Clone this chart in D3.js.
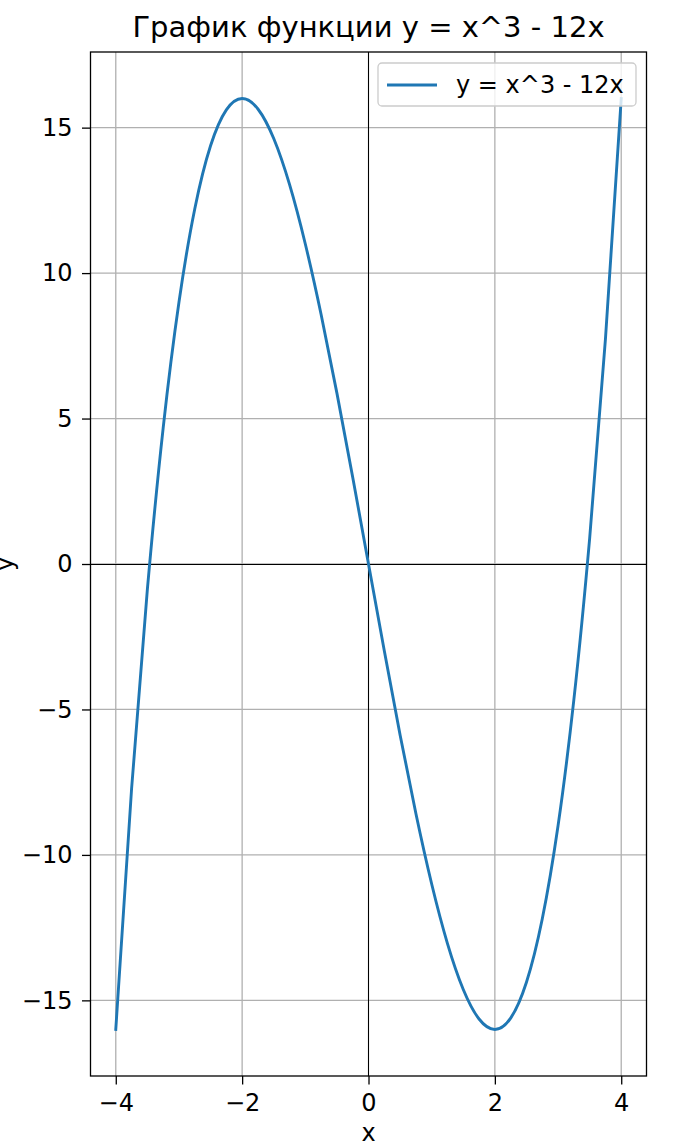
<!DOCTYPE html>
<html><head><meta charset="utf-8">
<script src="https://cdn.jsdelivr.net/npm/d3@7"></script>
<style>body{margin:0;background:#fff}svg{display:block}text{font-family:"DejaVu Sans",sans-serif}</style>
</head><body>
<script>
const xValues = [-4,-3.75,-3.5,-3.25,-3,-2.75,-2.5,-2.25,-2,-1.75,-1.5,-1.25,-1,-0.75,-0.5,-0.25,0,0.25,0.5,0.75,1,1.25,1.5,1.75,2,2.25,2.5,2.75,3,3.25,3.5,3.75,4];
const yValues = [-16,-7.734,-0.875,4.672,9,12.203,14.375,15.609,16,15.641,14.625,13.047,11,8.578,5.875,2.984,0,-2.984,-5.875,-8.578,-11,-13.047,-14.625,-15.641,-16,-15.609,-14.375,-12.203,-9,-4.672,0.875,7.734,16];
const xTicks = [-4,-2,0,2,4];
const yTicks = [-15,-10,-5,0,5,10,15];
const titleText = "График функции y = x^3 - 12x";
const seriesLabel = "y = x^3 - 12x";

const W = 689, H = 1143;
const L = 90.5, R = 646.5, T = 52, B = 1076;
const svg = d3.select("body").append("svg").attr("width", W).attr("height", H);
const x = d3.scaleLinear().domain([-4.4, 4.4]).range([L, R]);
const y = d3.scaleLinear().domain([-17.6, 17.6]).range([B, T]);
const fmt = d => d < 0 ? "\u2212" + Math.abs(d) : String(d);

// grid
const g = svg.append("g");
g.selectAll(".gx").data(xTicks).join("line")
  .attr("x1", d => x(d)).attr("x2", d => x(d)).attr("y1", T).attr("y2", B)
  .attr("stroke", "#b0b0b0").attr("stroke-width", 1.3);
g.selectAll(".gy").data(yTicks).join("line")
  .attr("y1", d => y(d)).attr("y2", d => y(d)).attr("x1", L).attr("x2", R)
  .attr("stroke", "#b0b0b0").attr("stroke-width", 1.3);

// zero lines
svg.append("line").attr("x1", L).attr("x2", R).attr("y1", y(0) + 0.5).attr("y2", y(0) + 0.5).attr("stroke", "#000").attr("stroke-width", 1);
svg.append("line").attr("x1", x(0)).attr("x2", x(0)).attr("y1", T).attr("y2", B).attr("stroke", "#000").attr("stroke-width", 1);

// curve
const pts = xValues.map((v, i) => [v, yValues[i]]);
svg.append("path").datum(pts)
  .attr("d", d3.line().x(d => x(d[0])).y(d => y(d[1])).curve(d3.curveNatural))
  .attr("fill", "none").attr("stroke", "#1f77b4").attr("stroke-width", 2.9).attr("stroke-linecap", "square");

// axes
const xa = svg.append("g").attr("transform", `translate(0,${B})`)
  .call(d3.axisBottom(x).tickValues(xTicks).tickFormat(fmt).tickSize(8.5).tickPadding(9.5));
const ya = svg.append("g").attr("transform", `translate(${L},0)`)
  .call(d3.axisLeft(y).tickValues(yTicks).tickFormat(fmt).tickSize(8.5).tickPadding(9.5));
[xa, ya].forEach(a => {
  a.select(".domain").remove();
  a.selectAll("line").attr("stroke", "#000").attr("stroke-width", 1.3);
  a.selectAll("text").attr("font-size", 24).attr("fill", "#000").attr("font-family", "DejaVu Sans");
});

// spines
svg.append("rect").attr("x", L).attr("y", T).attr("width", R - L).attr("height", B - T)
  .attr("fill", "none").attr("stroke", "#000").attr("stroke-width", 1.3);

// title & labels
svg.append("text").attr("x", (L + R) / 2).attr("y", 37).attr("text-anchor", "middle")
  .attr("font-size", 29).text(titleText);
svg.append("text").attr("x", x(0)).attr("y", 1141).attr("text-anchor", "middle").attr("font-size", 24).text("x");
svg.append("text").attr("transform", `translate(13,${y(0)}) rotate(-90)`).attr("text-anchor", "middle").attr("font-size", 24).text("y");

// legend
const lg = svg.append("g");
lg.append("rect").attr("x", 378).attr("y", 63).attr("width", 258).attr("height", 43).attr("rx", 4)
  .attr("fill", "#fff").attr("fill-opacity", 0.8).attr("stroke", "#cccccc").attr("stroke-width", 1.3);
lg.append("line").attr("x1", 387).attr("x2", 437).attr("y1", 85).attr("y2", 85)
  .attr("stroke", "#1f77b4").attr("stroke-width", 2.9);
lg.append("text").attr("x", 456).attr("y", 93).attr("font-size", 24).text(seriesLabel);
</script>
</body></html>
